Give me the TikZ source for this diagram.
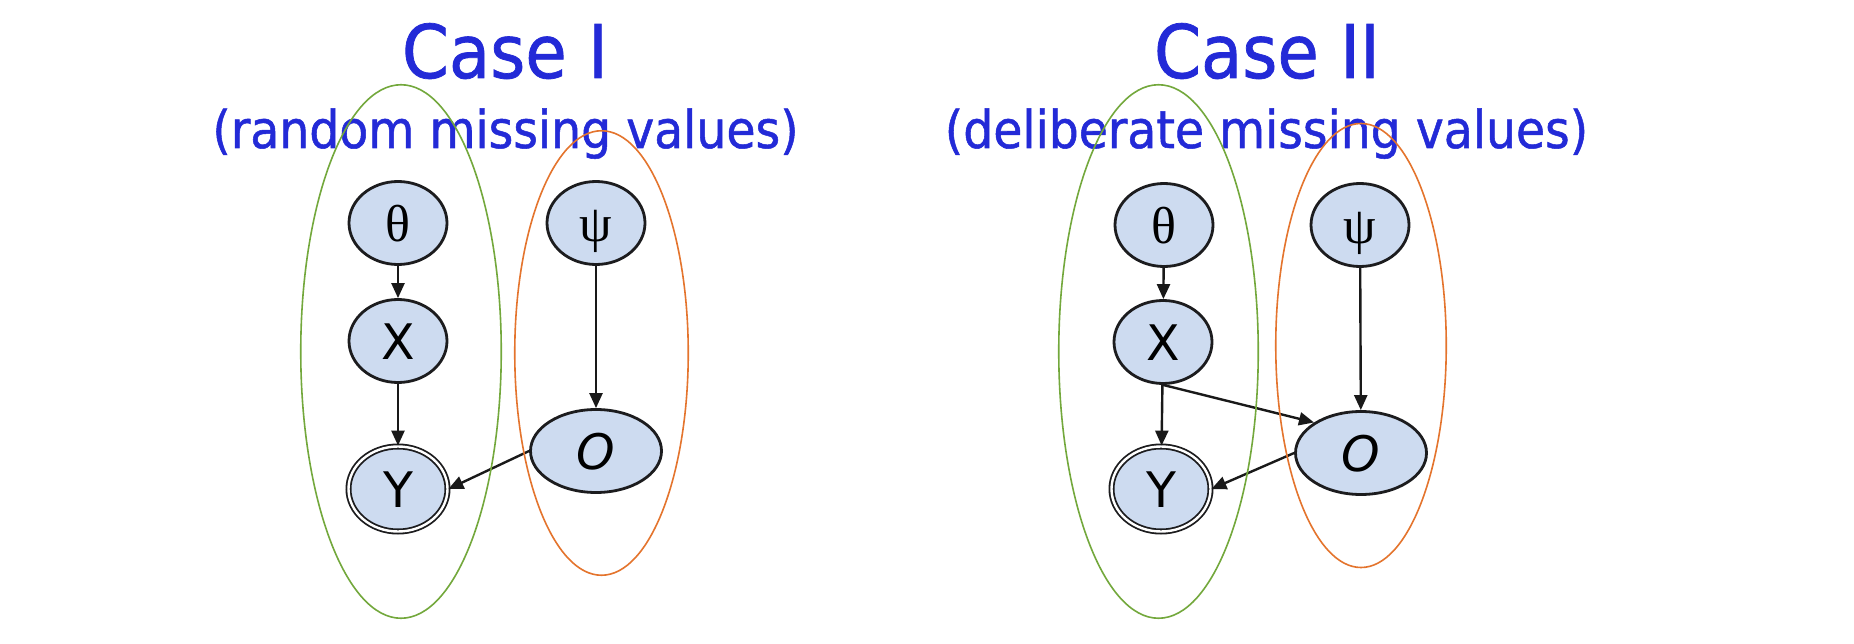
\documentclass[tikz,border=0pt]{standalone}
\usepackage{fontspec}
\usetikzlibrary{arrows.meta,shapes.geometric}
\newfontfamily\titlefont[FakeStretch=0.91,FakeBold=1]{DejaVu Sans}
\newfontfamily\greekfont{Liberation Serif}
\newfontfamily\varfont{DejaVu Sans}
\definecolor{titleblue}{RGB}{35,42,215}
\definecolor{nodefill}{RGB}{205,219,240}
\definecolor{nodeedge}{RGB}{28,28,30}
\definecolor{edgecol}{RGB}{25,25,25}
\definecolor{grpgreen}{RGB}{115,168,60}
\definecolor{grporange}{RGB}{228,116,45}
\begin{document}
\begin{tikzpicture}[x=1pt,y=-1pt,
  var/.style={ellipse, draw=nodeedge, line width=2.8pt, fill=nodefill, inner sep=0pt,
    minimum width=98pt, minimum height=83pt, text height=37pt, text depth=0pt},
  wide/.style={var, minimum width=131pt},
  obs/.style={var, double=white, double distance=2.4pt, line width=1.8pt,
    minimum width=99pt, minimum height=85pt},
  edge/.style={draw=edgecol, line width=2.4pt, -{Triangle[length=15pt,width=13pt]}},
  grp/.style={ellipse, draw, line width=1.6pt, inner sep=0pt},
  ttl/.style={font=\titlefont\fontsize{74}{80}\selectfont, text=titleblue, anchor=base, inner sep=0pt},
  sub/.style={font=\titlefont\fontsize{52}{58}\selectfont, text=titleblue, anchor=base, inner sep=0pt},
  gk/.style={font=\greekfont\fontsize{52}{56}\selectfont},
  lt/.style={font=\varfont\fontsize{49}{52}\selectfont}]
\useasboundingbox (0,0) rectangle (1854,644);
\fill[white] (0,0) rectangle (1854,644);

% ---------- Case I ----------
\node[ttl] (t1) at (505,78) {Case I};
\node[sub] (s1) at (505.5,148) {(random missing values)};

\node[var,gk] (th1) at (398,223) {θ};
\node[var,gk] (ps1) at (596,223) {ψ};
\node[var,lt] (x1) at (398,341) {X};
\node[obs,lt] (y1) at (398,489) {Y};
\node[wide,lt] (o1) at (596,451) {\itshape O};

\draw[edge] (th1) -- (x1);
\draw[edge] (x1) -- (y1);
\draw[edge] (ps1) -- (o1);
\draw[edge] (o1.west) -- (y1.east);

\node[grp, draw=grpgreen, minimum width=200.5pt, minimum height=533.5pt] (g1) at (401,351.5) {};
\node[grp, draw=grporange, minimum width=173.5pt, minimum height=444.5pt] (r1) at (601.5,353) {};

% ---------- Case II ----------
\node[ttl] (t2) at (1267,78) {Case II};
\node[sub] (s2) at (1266.5,148) {(deliberate missing values)};

\node[var,gk] (th2) at (1164,225) {θ};
\node[var,gk] (ps2) at (1360,225) {ψ};
\node[var,lt] (x2) at (1163,342) {X};
\node[obs,lt] (y2) at (1161,489) {Y};
\node[wide,lt] (o2) at (1361,453) {\itshape O};

\draw[edge] (th2) -- (x2);
\draw[edge] (x2) -- (y2);
\draw[edge] (ps2) -- (o2);
\draw[edge] (x2.south) -- (o2.147);
\draw[edge] (o2.west) -- (y2.east);

\node[grp, draw=grpgreen, minimum width=199.5pt, minimum height=533.5pt] (g2) at (1158.5,351.5) {};
\node[grp, draw=grporange, minimum width=170.5pt, minimum height=444pt] (r2) at (1361,345.5) {};
\end{tikzpicture}
\end{document}
